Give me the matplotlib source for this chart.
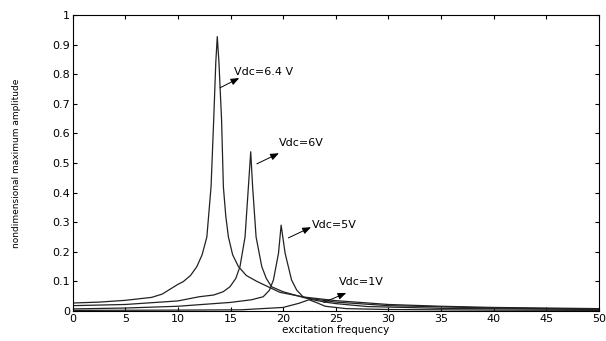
import matplotlib
matplotlib.use("Agg")
import matplotlib.pyplot as plt
from matplotlib.ticker import FuncFormatter

# curve samples (excitation frequency, amplitude)
x_64 = [0, 2.5, 5, 7.5, 8.5, 10, 10.5, 11.2, 11.8, 12.3, 12.75, 13.15, 13.4, 13.6, 13.74, 13.9, 14.15, 14.32, 14.55, 14.8, 15.2, 15.75, 16.5, 17.5, 19.7, 22, 25, 30, 35, 40, 45, 50]
y_64 = [0.027, 0.03, 0.036, 0.046, 0.057, 0.09, 0.099, 0.12, 0.15, 0.19, 0.25, 0.42, 0.645, 0.84, 0.927, 0.84, 0.645, 0.42, 0.32, 0.25, 0.19, 0.15, 0.12, 0.1, 0.063, 0.047, 0.035, 0.022, 0.016, 0.012, 0.01, 0.008]

x_6 = [0, 5, 10, 12, 13.4, 14.3, 14.95, 15.5, 15.9, 16.38, 16.7, 16.92, 17.1, 17.43, 17.97, 18.4, 18.9, 20, 22, 25, 30, 40, 50]
y_6 = [0.018, 0.022, 0.034, 0.048, 0.054, 0.065, 0.082, 0.11, 0.15, 0.25, 0.42, 0.538, 0.42, 0.25, 0.15, 0.11, 0.082, 0.065, 0.045, 0.03, 0.018, 0.01, 0.006]

x_5 = [0, 5, 10, 15, 17, 18.1, 18.7, 19.08, 19.56, 19.81, 20.19, 20.8, 21.3, 21.9, 22.5, 24, 25, 28, 35, 50]
y_5 = [0.007, 0.01, 0.016, 0.029, 0.038, 0.048, 0.07, 0.105, 0.195, 0.29, 0.195, 0.105, 0.07, 0.048, 0.04, 0.03, 0.025, 0.015, 0.009, 0.005]

x_1 = [0, 10, 16, 20, 21.5, 22.46, 23.2, 24, 26, 30, 40, 50]
y_1 = [0.002, 0.003, 0.004, 0.012, 0.026, 0.038, 0.028, 0.016, 0.008, 0.005, 0.003, 0.002]

labels = ["Vdc=6.4 V", "Vdc=6V", "Vdc=5V", "Vdc=1V"]
arrow_tail = [(14.0, 0.754), (17.5, 0.497), (20.5, 0.247), (23.86, 0.029)]
arrow_head = [(15.83, 0.787), (19.6, 0.533), (22.65, 0.283), (26.0, 0.061)]
text_pos = [(15.35, 0.807), (19.6, 0.568), (22.75, 0.292), (25.3, 0.097)]

fig = plt.figure(figsize=(6.06, 3.41), dpi=100)
ax = fig.add_axes([0.12, 0.088, 0.868, 0.868])

for xs, ys in [(x_64, y_64), (x_6, y_6), (x_5, y_5), (x_1, y_1)]:
    ax.plot(xs, ys, color="#222222", lw=0.9)

for lab, tail, head, tp in zip(labels, arrow_tail, arrow_head, text_pos):
    ax.annotate("", xy=head, xytext=tail,
                arrowprops=dict(arrowstyle="-|>,head_length=0.5,head_width=0.2",
                                color="black", lw=0.7, shrinkA=0, shrinkB=0))
    ax.text(tp[0], tp[1], lab, fontsize=8, va="center", ha="left")

ax.set_xlim(0, 50)
ax.set_ylim(0, 1)
ax.set_xticks(range(0, 51, 5))
ax.set_yticks([i / 10 for i in range(11)])
ax.yaxis.set_major_formatter(FuncFormatter(lambda v, p: "%g" % round(v, 1)))
ax.tick_params(direction="in", top=True, right=True, labelsize=8, length=3, pad=2)
for s in ax.spines.values():
    s.set_linewidth(0.8)

ax.set_xlabel("excitation frequency", fontsize=7.5, labelpad=1)
ax.set_ylabel("nondimensional maximum amplitude", fontsize=6.5)
ax.yaxis.set_label_coords(-0.098, 0.5)

fig.savefig("out.png", dpi=100)
